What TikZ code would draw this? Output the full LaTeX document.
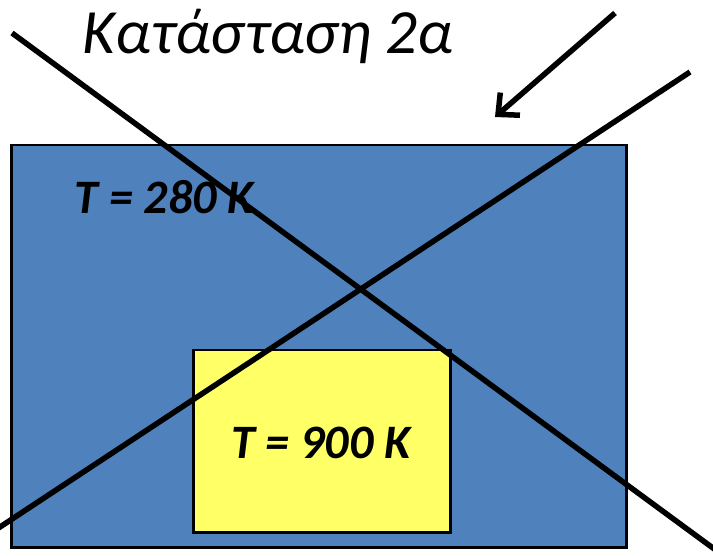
\documentclass[tikz,border=0pt]{standalone}
\usepackage{fontspec}
\setmainfont{Carlito}
\usetikzlibrary{arrows.meta}
\definecolor{boxblue}{HTML}{4F81BD}
\definecolor{boxyellow}{HTML}{FFFF66}
\begin{document}
\begin{tikzpicture}[x=1pt,y=-1pt,
  box/.style={draw=black,line width=2.5pt,inner sep=0pt,anchor=north west},
  ray/.style={line width=5.5pt,line cap=butt},
  lbl/.style={font=\fontsize{48}{52}\selectfont\bfseries\itshape}]
\useasboundingbox (0,0) rectangle (713,556);
\node[box,fill=boxblue,minimum width=615pt,minimum height=402pt] (outer) at (10,144) {};
\node[box,fill=boxyellow,minimum width=257pt,minimum height=182pt] (inner) at (192,349) {};
\node[lbl,anchor=west] (t1) at (71,197) {T = 280 K};
\node[lbl] (t2) at (321,443) {T = 900 K};
\node[font=\fontsize{63}{67}\selectfont\itshape] (title) at (268,36) {Κατάσταση 2α};
\coordinate (a1) at (12,33);
\coordinate (a2) at (720,553.2);
\coordinate (b1) at (-5,530.3);
\coordinate (b2) at (690,72);
\coordinate (c1) at (615,13);
\coordinate (c2) at (495,117);
\draw[ray] (a1) -- (a2);
\draw[ray] (b1) -- (b2);
\draw[ray,-{Straight Barb[length=16pt,width=30pt,line width=5.5pt]}] (c1) -- (c2);
\end{tikzpicture}
\end{document}
